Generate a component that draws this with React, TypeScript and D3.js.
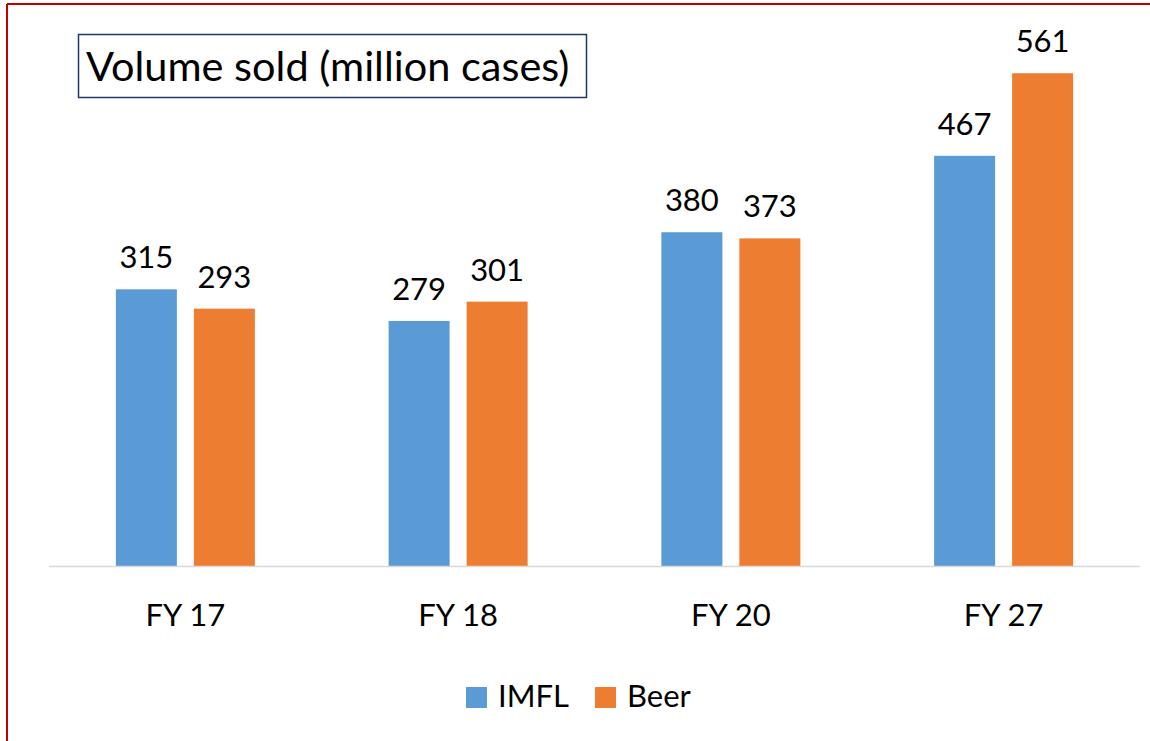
import React from "react";
import * as d3 from "d3";

const categories = ["FY 17", "FY 18", "FY 20", "FY 27"];
const seriesNames = ["IMFL", "Beer"];
const imfl = [315, 279, 380, 467];
const beer = [293, 301, 373, 561];
const colors = ["#5B9BD5", "#ED7D31"];

const W = 1150;
const H = 741;
const FONT = "Lato, 'Open Sans', sans-serif";

export default function App() {
  const x = d3.scaleBand<string>().domain(categories).range([49, 1140]).paddingInner(0).paddingOuter(0);
  const y = d3.scaleLinear().domain([0, 600]).range([566, 39]);
  const sub = d3.scaleBand<string>().domain(seriesNames).range([0, 139]).paddingInner(17 / 78);
  const series = [imfl, beer];
  const barOffset = (x.bandwidth() - 139) / 2;

  return (
    <svg width={W} height={H} style={{ position: "fixed", left: 0, top: 0, background: "#fff" }}>
      <rect x={0} y={0} width={W} height={H} fill="#fff" />
      {/* red frame */}
      <line x1={7} y1={4} x2={W} y2={4} stroke="#C00000" strokeWidth={2} />
      <line x1={7} y1={4} x2={7} y2={H} stroke="#C00000" strokeWidth={2} />
      {/* title box */}
      <rect x={78.5} y={34.5} width={508} height={63} fill="#fff" stroke="#1F3864" strokeWidth={1.5} />
      <text x={86} y={81} fontFamily={FONT} fontSize={41.5} fill="#000">Volume sold (million cases)</text>
      {/* bars */}
      {categories.map((c, i) => (
        <g key={c}>
          {seriesNames.map((s, j) => {
            const v = series[j][i];
            const bx = (x(c) as number) + barOffset + (sub(s) as number);
            return (
              <g key={s}>
                <rect x={bx} y={y(v)} width={sub.bandwidth()} height={y(0) - y(v)} fill={colors[j]} />
                <text x={bx + sub.bandwidth() / 2} y={y(v) - 21} textAnchor="middle" fontFamily={FONT} fontSize={31} fill="#000">{v}</text>
              </g>
            );
          })}
          <text x={(x(c) as number) + x.bandwidth() / 2} y={626} textAnchor="middle" fontFamily={FONT} fontSize={31} fill="#000">{c}</text>
        </g>
      ))}
      {/* axis */}
      <line x1={49} x2={1140} y1={y(0) + 0.5} y2={y(0) + 0.5} stroke="#D9D9D9" strokeWidth={1.5} />
      {/* legend */}
      <rect x={466} y={687} width={21} height={21} fill={colors[0]} />
      <text x={498} y={707} fontFamily={FONT} fontSize={31} fill="#000">{seriesNames[0]}</text>
      <rect x={595} y={687} width={21} height={21} fill={colors[1]} />
      <text x={627} y={707} fontFamily={FONT} fontSize={31} fill="#000">{seriesNames[1]}</text>
    </svg>
  );
}
